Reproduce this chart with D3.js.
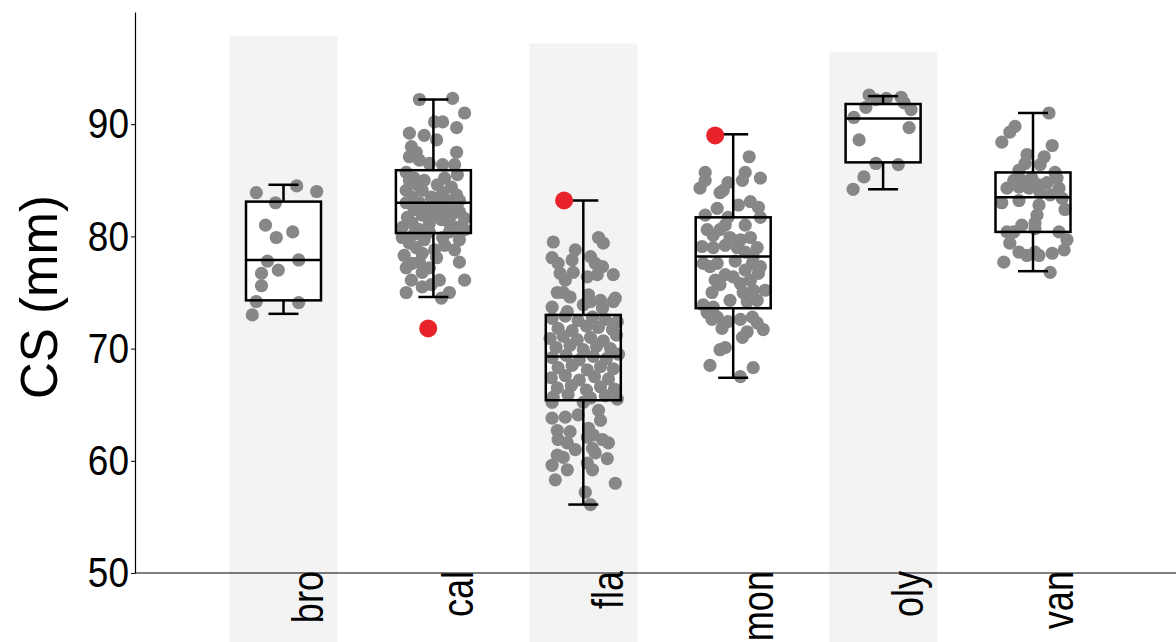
<!DOCTYPE html>
<html>
<head>
<meta charset="utf-8">
<script src="https://cdn.jsdelivr.net/npm/d3@7"></script>
<style>
  body { margin: 0; background: #fff; }
  text { font-family: "Liberation Sans", Arial, sans-serif; fill: #000; }
</style>
</head>
<body>
<script>
// groups along the x axis
const categories = ["bro", "cal", "fla", "mon", "oly", "van"];
// shaded columns and the value where their grey panel stops
const shaded = ["bro", "fla", "oly"];
const shadeTop = [97.9, 97.2, 96.4];

// box statistics, one entry per category
const whiskerLow = [73.1, 74.6, 56.1, 67.4, 84.2, 76.9];
const quart1     = [74.3, 80.3, 65.4, 73.6, 86.6, 80.4];
const medians    = [77.9, 83.0, 69.3, 78.2, 90.5, 83.5];
const quart3     = [83.1, 85.9, 73.0, 81.7, 91.8, 85.7];
const whiskerHigh= [84.6, 92.2, 83.2, 89.1, 92.5, 91.0];

// individual observations (CS, mm) and their horizontal jitter (-10..10)
const broValues = [83.9,84.5,84.0,83.0,81.0,79.9,80.4,77.8,77.9,77.0,76.7,75.6,74.2,74.1,73.0];
const broJitter = [-6.8,3.3,8.3,-2,-4.5,-1.8,2.3,-4,3.8,-1.3,-5.5,-5.5,-6.8,3.8,-7.8];

const calValues = [92.2,92.3,91.0,90.2,90.2,89.7,89.2,89.0,88.6,88.0,87.5,87.1,87.5,86.8,86.5,86.4,86.4,85.5,85.7,85.0,
  84.1,83.5,83.0,84.1,84.6,84.4,83.5,83.9,83.7,83.0,82.6,82.5,82.2,81.6,81.7,80.8,81.2,81.2,81.5,81.2,
  80.8,80.6,79.9,79.4,79.9,80.4,79.0,78.5,77.7,79.2,77.6,77.2,78.1,77.7,76.8,76.1,76.1,75.7,75.5,75.0,
  75.0,74.5,85.2,85.0,85.2,84.6,82.4,83.2,82.4,81.9,82.1,80.4,80.6,83.2,83.2,81.9,81.9,79.7,80.2,79.7,
  78.3,78.8,77.2,76.1,78.8,83.2];
const calJitter = [-3.5,4.8,7.8,0.3,2.3,5.8,-6,-2.3,0.8,-5.5,-4.3,-6,5.8,-3.5,-1,2.3,5.3,6,-6.8,-6,
  -6.8,-5.3,-6.8,-2.8,1,4.5,-0.5,2.3,5.8,-3.5,0.8,4,6.5,7.8,-6.5,-7.8,-5.3,-1,2,4,
  6,7.8,-7.8,-6,2.3,4,-4.3,-2.8,-3.5,2.8,-5.3,-6.8,0.8,6.5,-2.8,7.8,1.5,-0.5,-2.8,-6.8,
  4,2,-4.8,-2.3,2.8,-4,-1.5,1.5,-4.8,-2.8,2.8,-1,-3.5,-5.5,3.5,4.5,0.3,-2.3,-4.8,6.5,
  -7.3,0.3,-1,-5.5,5.3,6.5];

const flaValues = [79.5,79.9,79.4,78.1,77.6,78.8,77.9,78.2,77.6,77.3,76.6,76.7,76.1,76.8,76.4,76.6,75.0,75.0,74.6,73.7,
  73.3,74.8,74.2,74.3,74.5,73.6,73.9,74.2,
  72.7,72.9,72.5,72.8,72.6,72.4, 71.8,71.6,72.0,71.9,71.7, 70.9,71.1,70.8,71.0,70.7,71.2,
  70.1,70.3,69.9,70.2,70.0, 69.2,69.4,69.0,69.3,69.1,69.5, 68.3,68.5,68.1,68.4,68.2,
  67.4,67.6,67.2,67.5,67.3, 66.5,66.7,66.3,66.6,66.4, 65.7,65.9,65.6,65.8,65.5,
  65.2,65.2,64.5,63.8,63.9,64.1,62.7,62.6,62.9,62.3,61.9,61.6,62.1,61.9,61.6,61.1,60.7,60.5,60.3,60.2,
  59.6,59.2,59.8,59.2,58.3,58.0,57.2,56.1,61.0,63.6];
const flaJitter = [-7.5,3.8,5,-7.8,-6.3,-2,-2.8,1.8,3,4.8,7.5,-5.8,-4.5,-2.5,1,3.5,-6.5,-5,-3.3,-7.8,
  -4,1.3,1.8,4.3,8,4.8,0,7.5,
  -7.8,-4.5,-1.3,2.3,5.5,8.5, -6.3,-2.8,0.8,3.8,7.3, -8.3,-5,-1.5,1.8,5,8.3,
  -6.8,-3.3,0,3.3,6.8, -7.8,-4.3,-1,2.5,5.8,8.8, -6.3,-2.8,1,4.3,7.5,
  -8,-4.5,-1,2.8,6.3, -6.5,-3,0.8,4.3,7.8, -7.5,-3.8,1.8,5.5,8.5,
  -7.8,0,3.8,-7.8,-4.5,-1.3,-6.5,-3.3,1.3,2.5,-6.3,-4,1,4.8,6.3,2.3,3,-6.5,-5,6,
  -7.8,-4,1,2.3,-7,8,0.5,1.8,-2,4.3];

const monValues = [87.1,85.7,85.0,84.3,85.7,85.0,85.2,84.8,84.1,83.9,82.8,83.1,82.6,81.7,82.5,81.7,80.6,80.1,80.6,79.9,
  79.7,79.9,79.1,79.0,79.2,79.0,78.6,79.0,78.2,77.6,77.3,77.6,77.6,77.3,76.6,76.4,75.8,76.1,76.7,75.0,
  75.2,75.0,75.2,73.9,73.7,74.2,74.3,73.2,72.8,72.6,71.8,72.4,72.6,72.8,72.3,71.7,71.0,71.5,69.9,70.1,
  68.5,68.3,67.5,81.0,81.0,77.8,77.0,75.7,74.3,81.9,76.1];
const monJitter = [4,-7,-7,-8.3,3,2.3,6.8,-1.3,-2.5,-3.3,1.3,4.3,6.3,6.8,-4,-1.3,-6.5,-5,-3.3,-0.8,
  1.8,4.3,-7.8,-5,-2,1,3,6,5,-7.5,-5.8,-4,4.8,6.8,-2,0,1.8,4.3,6.3,2.5,
  5,-5.3,8,-7.5,-5,3.5,6,-6.5,-4,-5.3,-2.8,-1.3,1.8,4.8,6,7.5,2.3,3.5,-3.3,-2,
  -5.8,5,1.8,-2,3,0.5,3,-3.3,-0.8,-7,-4.5];

const olyValues = [92.6,92.2,92.3,92.4,91.9,91.3,91.5,90.6,89.7,88.6,86.5,86.4,85.3,84.2];
const olyJitter = [-3.5,-1.8,0.8,4.5,5.3,7,-4.3,-7.3,6.5,-6,-1.8,3.8,-4.8,-7.5];

const vanValues = [91.0,89.8,89.3,88.4,88.1,87.3,87.1,86.5,86.4,85.9,85.7,85.0,85.0,85.2,85.2,84.3,84.4,84.6,84.8,84.3,
  84.3,83.9,83.7,83.4,83.0,83.2,82.8,82.4,81.9,81.2,81.0,80.7,80.4,80.4,80.4,79.7,79.4,78.6,78.3,78.6,
  78.3,78.5,78.8,77.7,76.8];
const vanJitter = [4,-4.5,-5.8,-7.8,4.8,-1.5,2.8,-2,1.8,-3.5,5.5,-4.8,-2.8,-0.3,6,-6.5,-3.5,1.5,3.5,-1,
  6.5,1.8,4.3,7.3,-7.8,-3.5,1.5,8,1,0.5,-2.8,0.5,-6.5,-4.8,6.5,8.5,-5.8,-3.5,-1.5,0.5,
  1.5,4.8,7.8,-7.3,4.3];

// highlighted (red) observations
const outlierCat = ["cal", "fla", "mon"];
const outlierValue = [71.8, 83.2, 89.0];
const outlierJitter = [-1.3, -4.8, -4.5];

const yTicks = [50, 60, 70, 80, 90];

var width = 1176, height = 642;
var margin = {top: 12, right: 0, bottom: 69, left: 135};

var svg = d3.select("body").append("svg")
	.attr("width", width)
	.attr("height", height);

var y = d3.scaleLinear()
	.domain([50, 100])
	.range([height - margin.bottom, margin.top]);

var x = d3.scalePoint()
	.domain(categories)
	.range([283.5, 1033]);

var jit = d3.scaleLinear().domain([-10, 10]).range([-40, 40]);

var bandW = 108, boxW = 75, capW = 30;

// grey panels behind alternate groups
svg.append("g").selectAll("rect")
	.data(d3.zip(shaded, shadeTop))
	.join("rect")
	.attr("x", d => x(d[0]) - bandW / 2)
	.attr("y", d => y(d[1]))
	.attr("width", bandW)
	.attr("height", d => height - y(d[1]))
	.attr("fill", "#f3f3f3");

var stats = categories.map((c, i) => ({
	cat: c, lo: whiskerLow[i], q1: quart1[i], med: medians[i], q3: quart3[i], hi: whiskerHigh[i]
}));

// white box fill under the points
svg.append("g").selectAll("rect")
	.data(stats)
	.join("rect")
	.attr("x", d => x(d.cat) - boxW / 2)
	.attr("y", d => y(d.q3))
	.attr("width", boxW)
	.attr("height", d => y(d.q1) - y(d.q3))
	.attr("fill", "#fff");

var groups = [
	["bro", broValues, broJitter],
	["cal", calValues, calJitter],
	["fla", flaValues, flaJitter],
	["mon", monValues, monJitter],
	["oly", olyValues, olyJitter],
	["van", vanValues, vanJitter]
];
var points = [];
groups.forEach(g => {
	d3.zip(g[1], g[2]).forEach(p => points.push({cat: g[0], v: p[0], j: p[1]}));
});

svg.append("g").selectAll("circle")
	.data(points)
	.join("circle")
	.attr("cx", d => x(d.cat) + jit(d.j))
	.attr("cy", d => y(d.v))
	.attr("r", 6.6)
	.attr("fill", "#878787");

// box outlines, medians and whiskers on top of the points
var boxes = svg.append("g")
	.attr("stroke", "#000")
	.attr("stroke-width", 2.5)
	.attr("fill", "none");

boxes.selectAll("rect")
	.data(stats)
	.join("rect")
	.attr("x", d => x(d.cat) - boxW / 2)
	.attr("y", d => y(d.q3))
	.attr("width", boxW)
	.attr("height", d => y(d.q1) - y(d.q3));

boxes.selectAll(".med")
	.data(stats)
	.join("line")
	.attr("class", "med")
	.attr("x1", d => x(d.cat) - boxW / 2)
	.attr("x2", d => x(d.cat) + boxW / 2)
	.attr("y1", d => y(d.med))
	.attr("y2", d => y(d.med));

boxes.selectAll(".whUp")
	.data(stats)
	.join("line")
	.attr("class", "whUp")
	.attr("x1", d => x(d.cat))
	.attr("x2", d => x(d.cat))
	.attr("y1", d => y(d.q3))
	.attr("y2", d => y(d.hi));

boxes.selectAll(".whDn")
	.data(stats)
	.join("line")
	.attr("class", "whDn")
	.attr("x1", d => x(d.cat))
	.attr("x2", d => x(d.cat))
	.attr("y1", d => y(d.q1))
	.attr("y2", d => y(d.lo));

boxes.selectAll(".capUp")
	.data(stats)
	.join("line")
	.attr("class", "capUp")
	.attr("x1", d => x(d.cat) - capW / 2)
	.attr("x2", d => x(d.cat) + capW / 2)
	.attr("y1", d => y(d.hi))
	.attr("y2", d => y(d.hi));

boxes.selectAll(".capDn")
	.data(stats)
	.join("line")
	.attr("class", "capDn")
	.attr("x1", d => x(d.cat) - capW / 2)
	.attr("x2", d => x(d.cat) + capW / 2)
	.attr("y1", d => y(d.lo))
	.attr("y2", d => y(d.lo));

// red highlighted observations
svg.append("g").selectAll("circle")
	.data(d3.zip(outlierCat, outlierValue, outlierJitter))
	.join("circle")
	.attr("cx", d => x(d[0]) + jit(d[2]))
	.attr("cy", d => y(d[1]))
	.attr("r", 9)
	.attr("fill", "#e8232a");

// y axis
var yAxis = svg.append("g")
	.attr("transform", `translate(${margin.left},0)`)
	.call(d3.axisLeft(y).tickValues(yTicks).tickSize(4).tickSizeOuter(0).tickPadding(2));
yAxis.select(".domain").attr("stroke", "#000").attr("stroke-width", 1.2);
yAxis.selectAll(".tick line").attr("stroke", "#000");
yAxis.selectAll("text")
	.attr("x", -7)
	.attr("transform", "scale(0.86,1)")
	.style("font-size", "43px")
	.style("font-family", "'Liberation Sans', Arial, sans-serif")
	.attr("fill", "#000");

// x axis: plain line plus rotated labels
var xAxis = svg.append("g")
	.attr("transform", `translate(0,${y(50)})`)
	.call(d3.axisBottom(x).tickSize(0));
xAxis.select(".domain").remove();
xAxis.append("line")
	.attr("x1", margin.left)
	.attr("x2", width)
	.attr("stroke", "#000")
	.attr("stroke-width", 1.2);
xAxis.selectAll(".tick text")
	.attr("x", 0)
	.attr("y", 0)
	.attr("dy", 0)
	.attr("text-anchor", "end")
	.attr("transform", "translate(39,-2) rotate(-90) scale(0.82,1)")
	.style("font-size", "44px")
	.style("font-family", "'Liberation Sans', Arial, sans-serif")
	.attr("fill", "#000");

svg.append("text")
	.attr("transform", "translate(57,297) rotate(-90)")
	.attr("text-anchor", "middle")
	.style("font-size", "51px")
	.text("CS (mm)");
</script>
</body>
</html>
